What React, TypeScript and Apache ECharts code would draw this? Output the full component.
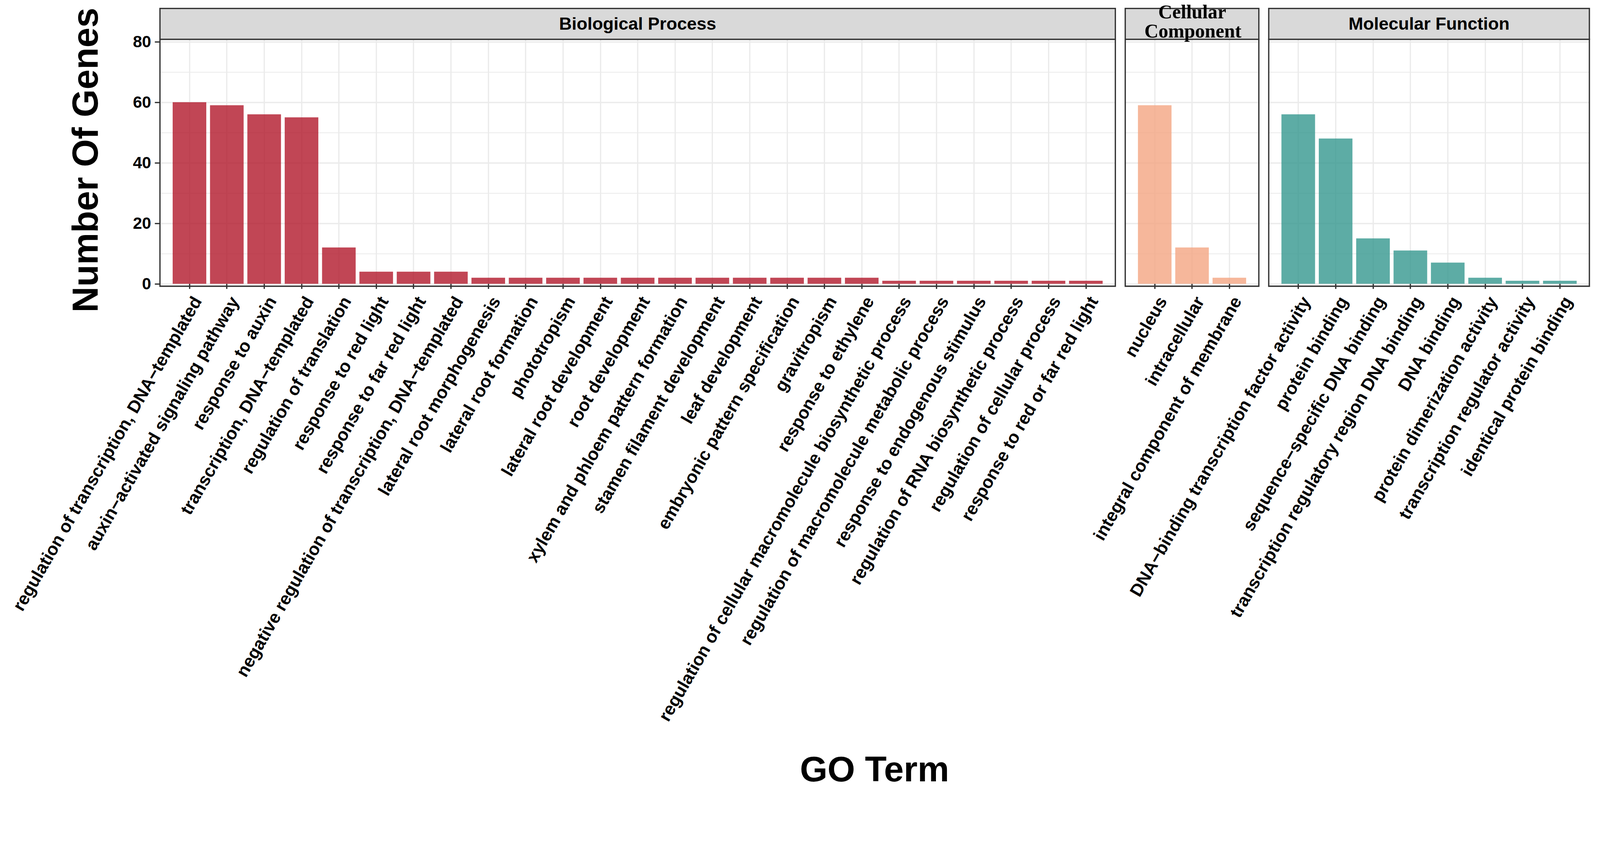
import React, { useEffect, useRef } from "react";
import * as echarts from "echarts";

const bpTerms = [
  "regulation of transcription, DNA\u2212templated",
  "auxin\u2212activated signaling pathway",
  "response to auxin",
  "transcription, DNA\u2212templated",
  "regulation of translation",
  "response to red light",
  "response to far red light",
  "negative regulation of transcription, DNA\u2212templated",
  "lateral root morphogenesis",
  "lateral root formation",
  "phototropism",
  "lateral root development",
  "root development",
  "xylem and phloem pattern formation",
  "stamen filament development",
  "leaf development",
  "embryonic pattern specification",
  "gravitropism",
  "response to ethylene",
  "regulation of cellular macromolecule biosynthetic process",
  "regulation of macromolecule metabolic process",
  "response to endogenous stimulus",
  "regulation of RNA biosynthetic process",
  "regulation of cellular process",
  "response to red or far red light",
];
const bpCounts = [60, 59, 56, 55, 12, 4, 4, 4, 2, 2, 2, 2, 2, 2, 2, 2, 2, 2, 2, 1, 1, 1, 1, 1, 1];

const ccTerms = ["nucleus", "intracellular", "integral component of membrane"];
const ccCounts = [59, 12, 2];

const mfTerms = [
  "DNA\u2212binding transcription factor activity",
  "protein binding",
  "sequence\u2212specific DNA binding",
  "transcription regulatory region DNA binding",
  "DNA binding",
  "protein dimerization activity",
  "transcription regulator activity",
  "identical protein binding",
];
const mfCounts = [56, 48, 15, 11, 7, 2, 1, 1];

const yTicks = [0, 20, 40, 60, 80];

// reference design size
const W = 4371;
const H = 2164;
const STRIP_TOP = 23;
const FRAME_TOP = 107.4;
const FRAME_BOTTOM = 782.2;
const Y80 = 114;
const Y0 = 775.6;
const PAD = 29.6;
const SANS = "'Liberation Sans', Arial, Helvetica, sans-serif";
const SERIF = "'Liberation Serif', 'Times New Roman', serif";
const GRID_COLOR = "#EBEBEB";
const DARK = "#333333";

const panels = [
  { left: 437, right: 3047, terms: bpTerms, counts: bpCounts, color: "#B2182B" },
  { left: 3074, right: 3439, terms: ccTerms, counts: ccCounts, color: "#F4A582" },
  { left: 3466, right: 4342, terms: mfTerms, counts: mfCounts, color: "#35978F" },
];

export default function App() {
  const ref = useRef<HTMLDivElement>(null);
  const vw = typeof window !== "undefined" ? window.innerWidth : W;
  const vh = typeof window !== "undefined" ? window.innerHeight : H;
  const s = Math.min(vw / W, vh / H);

  useEffect(() => {
    if (!ref.current) return;
    const k = (v: number) => v * s;
    const cw = W * s;
    const ch = H * s;
    const chart = echarts.init(ref.current, null, { renderer: "svg", width: cw, height: ch });

    const grid: any[] = [];
    const xAxis: any[] = [];
    const yAxis: any[] = [];
    const series: any[] = [];
    const graphic: any[] = [];

    panels.forEach((p, i) => {
      grid.push({ left: k(p.left), right: k(W - p.right), top: k(Y80), bottom: k(H - Y0) });
      grid.push({
        left: k(p.left + PAD),
        right: k(W - p.right + PAD),
        top: k(FRAME_TOP),
        bottom: k(H - FRAME_BOTTOM),
      });

      xAxis.push({ type: "value", gridIndex: 2 * i, show: false, min: 0, max: 1 });
      xAxis.push({
        type: "category",
        gridIndex: 2 * i + 1,
        data: p.terms,
        boundaryGap: true,
        axisLine: { show: false },
        axisTick: { show: true, alignWithLabel: true, length: k(14), lineStyle: { color: DARK, width: k(3.5) } },
        splitLine: { show: true, alignWithLabel: true, lineStyle: { color: GRID_COLOR, width: k(3.5) } },
        axisLabel: {
          interval: 0,
          rotate: 60,
          margin: k(20),
          align: "right",
          verticalAlign: "top",
          fontSize: k(48),
          fontWeight: "bold",
          fontFamily: SANS,
          color: "#000000",
        },
      });

      yAxis.push({
        type: "value",
        gridIndex: 2 * i,
        min: yTicks[0],
        max: yTicks[yTicks.length - 1],
        interval: 20,
        axisLine: { show: false },
        axisTick: { show: i === 0, length: k(14), lineStyle: { color: DARK, width: k(3.5) } },
        axisLabel: {
          show: i === 0,
          margin: k(24),
          fontSize: k(45),
          fontWeight: "bold",
          fontFamily: SANS,
          color: "#000000",
        },
        splitLine: { show: true, lineStyle: { color: GRID_COLOR, width: k(3.5) } },
        minorTick: { show: false, splitNumber: 2 },
        minorSplitLine: { show: true, lineStyle: { color: GRID_COLOR, width: k(2) } },
      });
      yAxis.push({ type: "value", gridIndex: 2 * i + 1, min: -0.8, max: 80.8, show: false });

      series.push({
        type: "bar",
        xAxisIndex: 2 * i + 1,
        yAxisIndex: 2 * i + 1,
        data: p.counts,
        barWidth: "90%",
        itemStyle: { color: p.color, opacity: 0.8 },
        silent: true,
      });

      graphic.push({
        type: "rect",
        z: 100,
        shape: {
          x: k(p.left),
          y: k(FRAME_TOP),
          width: k(p.right - p.left),
          height: k(FRAME_BOTTOM - FRAME_TOP),
        },
        style: { fill: "none", stroke: DARK, lineWidth: k(3.5) },
        silent: true,
      });
      graphic.push({
        type: "rect",
        z: 100,
        shape: {
          x: k(p.left),
          y: k(STRIP_TOP),
          width: k(p.right - p.left),
          height: k(FRAME_TOP - STRIP_TOP),
        },
        style: { fill: "#D9D9D9", stroke: DARK, lineWidth: k(3.5) },
        silent: true,
      });
    });

    const txt = (text: string, x: number, y: number, size: number, family: string, rotation = 0) => ({
      type: "text",
      z: 110,
      x: k(x),
      y: k(y),
      rotation,
      silent: true,
      style: {
        text,
        fontSize: k(size),
        fontWeight: "bold",
        fontFamily: family,
        fill: "#000000",
        align: "center",
        verticalAlign: "middle",
      },
    });

    graphic.push(txt("Biological Process", 1742, 65, 48, SANS));
    graphic.push(txt("Molecular Function", 3904, 65, 48, SANS));
    graphic.push(txt("Cellular", 3257, 32.5, 53, SERIF));
    graphic.push(txt("Component", 3259, 84.5, 53, SERIF));
    graphic.push(txt("Number Of Genes", 232.5, 437.5, 98, SANS, Math.PI / 2));
    graphic.push(txt("GO Term", 2389, 2102, 97, SANS));

    chart.setOption({
      animation: false,
      backgroundColor: "#FFFFFF",
      grid,
      xAxis,
      yAxis,
      series,
      graphic,
    });

    return () => chart.dispose();
  }, [s]);

  return (
    <div
      ref={ref}
      style={{
        position: "absolute",
        left: 0,
        top: 0,
        width: W * s,
        height: H * s,
        overflow: "hidden",
        background: "#fff",
      }}
    />
  );
}
